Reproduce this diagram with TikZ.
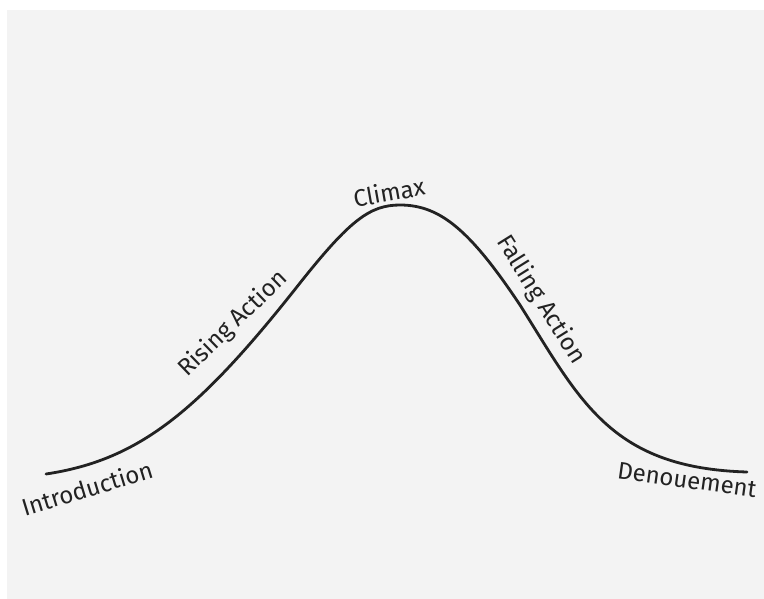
\documentclass[tikz,border=0pt]{standalone}
\usepackage{fontspec}
\setmainfont{Fira Sans}
\usepackage{xcolor}
\usetikzlibrary{positioning}
\definecolor{paper}{RGB}{243,243,243}
\definecolor{ink}{RGB}{34,34,34}

\begin{document}
\begin{tikzpicture}[
  x=1pt, y=-1pt,
  lbl/.style={font=\fontsize{24}{28}\selectfont, text=ink, inner sep=0pt},
  arc/.style={draw=ink, line width=2.8pt, line cap=round, line join=round}
]
  % page
  \useasboundingbox (0,0) rectangle (764,599);
  \fill[white] (0,0) rectangle (764,599);
  \fill[paper] (7,10) rectangle (764,599);

  % plot line
  \coordinate (start) at (46,474);
  \coordinate (peak)  at (400,205);
  \coordinate (stop)  at (747,472);
  \draw[arc] (start) .. controls (140,460) and (200,410) .. (300,283)
    .. controls (350,220) and (370,205) .. (peak)
    .. controls (440,205) and (470,230) .. (520,305)
    .. controls (580,400) and (610,468) .. (stop);

  % Labels
  \node[lbl, rotate=17]  (intro)  at (87,488)  {Introduction};
  \node[lbl, rotate=44]  (rise)   at (233,324) {Rising Action};
  \node[lbl, rotate=10]  (climax) at (389,192) {Climax};
  \node[lbl, rotate=-58] (fall)   at (541,300) {Falling Action};
  \node[lbl, rotate=-8]  (denou)  at (687,480) {Denouement};
\end{tikzpicture}
\end{document}
